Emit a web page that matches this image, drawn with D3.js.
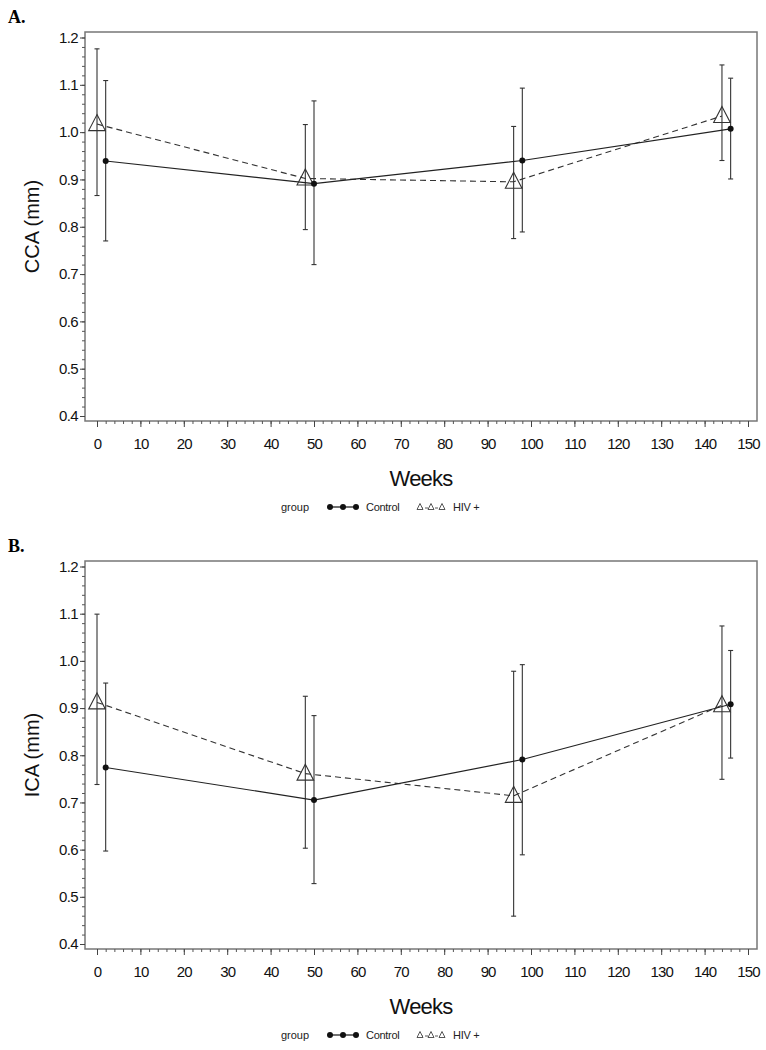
<!DOCTYPE html>
<html><head><meta charset="utf-8">
<script src="https://cdn.jsdelivr.net/npm/d3@7/dist/d3.min.js"></script>
<style>body{margin:0;background:#fff}svg{display:block}</style>
</head><body>
<svg id="c" width="766" height="1050"></svg>
<script>
// ---- data ----
const weeksHIV = [0, 48, 96, 144];
const weeksControl = [2, 50, 98, 146];
const xTicks = [0,10,20,30,40,50,60,70,80,90,100,110,120,130,140,150];
const yTicks = [0.4,0.5,0.6,0.7,0.8,0.9,1.0,1.1,1.2];

const ccaControl   = [0.939, 0.891, 0.940, 1.007];
const ccaControlLo = [0.770, 0.720, 0.789, 0.901];
const ccaControlHi = [1.109, 1.066, 1.093, 1.114];
const ccaHIV       = [1.017, 0.902, 0.895, 1.034];
const ccaHIVLo     = [0.866, 0.794, 0.775, 0.940];
const ccaHIVHi     = [1.176, 1.016, 1.012, 1.142];

const icaControl   = [0.774, 0.705, 0.791, 0.908];
const icaControlLo = [0.597, 0.528, 0.589, 0.794];
const icaControlHi = [0.953, 0.884, 0.992, 1.022];
const icaHIV       = [0.912, 0.761, 0.714, 0.906];
const icaHIVLo     = [0.738, 0.603, 0.459, 0.749];
const icaHIVHi     = [1.099, 0.925, 0.978, 1.074];

const panels = [
  {label:"A.", ylab:"CCA (mm)", top:32, bottom:421,
   ctrl:ccaControl, ctrlLo:ccaControlLo, ctrlHi:ccaControlHi,
   hiv:ccaHIV, hivLo:ccaHIVLo, hivHi:ccaHIVHi},
  {label:"B.", ylab:"ICA (mm)", top:561, bottom:949,
   ctrl:icaControl, ctrlLo:icaControlLo, ctrlHi:icaControlHi,
   hiv:icaHIV, hivLo:icaHIVLo, hivHi:icaHIVHi}
];

const svg = d3.select("#c");
const left = 85, right = 757;
const x = d3.scaleLinear().domain([0,150]).range([97, 748]);
const font = "'Liberation Sans', Arial, sans-serif";
const ink = "#222", frameC = "#777";

panels.forEach(p => {
  const y = d3.scaleLinear().domain([0.4,1.2]).range([p.bottom-5, p.top+5.5]);
  const g = svg.append("g");

  // panel letter
  svg.append("text").attr("x",8).attr("y",p.top-9)
    .attr("font-family","'Liberation Serif','Times New Roman',serif")
    .attr("font-weight","bold").attr("font-size",18).attr("fill","#000").text(p.label);

  // frame
  g.append("rect").attr("x",left).attr("y",p.top).attr("width",right-left).attr("height",p.bottom-p.top)
    .attr("fill","none").attr("stroke",frameC).attr("stroke-width",1.5);

  // y axis minor
  const yMinor = d3.range(0.4, 1.2001, 0.02).map(v=>+v.toFixed(2));
  const yMinAx = g.append("g").attr("transform",`translate(${left},0)`)
    .call(d3.axisLeft(y).tickValues(yMinor).tickSize(3).tickFormat(""));
  yMinAx.select(".domain").remove();
  yMinAx.selectAll("line").attr("stroke","#555");
  const yAx = g.append("g").attr("transform",`translate(${left},0)`)
    .call(d3.axisLeft(y).tickValues(yTicks).tickSize(5).tickPadding(2).tickFormat(d3.format(".1f")));
  yAx.select(".domain").remove();
  yAx.selectAll("line").attr("stroke","#444");
  yAx.selectAll("text").attr("font-family",font).attr("font-size",15).attr("fill","#111")
    .attr("letter-spacing","-0.6px");

  // x axis
  const xMinor = d3.range(0,151,2);
  const xMinAx = g.append("g").attr("transform",`translate(0,${p.bottom})`)
    .call(d3.axisBottom(x).tickValues(xMinor).tickSize(3).tickFormat(""));
  xMinAx.select(".domain").remove();
  xMinAx.selectAll("line").attr("stroke","#555");
  const xAx = g.append("g").attr("transform",`translate(0,${p.bottom})`)
    .call(d3.axisBottom(x).tickValues(xTicks).tickSize(6).tickPadding(11).tickFormat(d3.format("d")));
  xAx.select(".domain").remove();
  xAx.selectAll("line").attr("stroke","#444");
  xAx.selectAll("text").attr("font-family",font).attr("font-size",15).attr("fill","#111")
    .attr("letter-spacing","-0.9px");

  // axis titles
  g.append("text").attr("x",(left+right)/2).attr("y",p.bottom+65).attr("text-anchor","middle")
    .attr("font-family",font).attr("font-size",22).attr("letter-spacing","-0.8px").attr("fill","#111").text("Weeks");
  g.append("text").attr("transform",`translate(39,${(p.top+p.bottom)/2}) rotate(-90)`)
    .attr("text-anchor","middle").attr("font-family",font).attr("font-size",20).attr("fill","#111").text(p.ylab);

  const hivPts = weeksHIV.map((w,i)=>({w, v:p.hiv[i], lo:p.hivLo[i], hi:p.hivHi[i]}));
  const ctrlPts = weeksControl.map((w,i)=>({w, v:p.ctrl[i], lo:p.ctrlLo[i], hi:p.ctrlHi[i]}));
  const line = d3.line().x(d=>x(d.w)).y(d=>y(d.v));

  [hivPts, ctrlPts].forEach(pts => {
    pts.forEach(d => {
      g.append("line").attr("x1",x(d.w)).attr("x2",x(d.w)).attr("y1",y(d.lo)).attr("y2",y(d.hi))
        .attr("stroke","#333").attr("stroke-width",1.1);
      [d.lo,d.hi].forEach(v => g.append("line").attr("x1",x(d.w)-2.5).attr("x2",x(d.w)+2.5)
        .attr("y1",y(v)).attr("y2",y(v)).attr("stroke","#333").attr("stroke-width",1.1));
    });
  });

  g.append("path").datum(hivPts).attr("d",line).attr("fill","none").attr("stroke","#333")
    .attr("stroke-width",1.1).attr("stroke-dasharray","6,4");
  g.append("path").datum(ctrlPts).attr("d",line).attr("fill","none").attr("stroke",ink)
    .attr("stroke-width",1.2);

  hivPts.forEach(d => {
    const cx = x(d.w), cy = y(d.v);
    g.append("path").attr("d",`M${cx},${cy-9.5}L${cx+8.3},${cy+6.5}L${cx-8.3},${cy+6.5}Z`)
      .attr("fill","none").attr("stroke","#333").attr("stroke-width",1.1);
  });
  ctrlPts.forEach(d => {
    g.append("circle").attr("cx",x(d.w)).attr("cy",y(d.v)).attr("r",3).attr("fill","#111");
  });

  // legend
  const ly = p.bottom + 86;
  const lg = svg.append("g");
  lg.append("text").attr("x",295).attr("y",ly+4).attr("text-anchor","middle")
    .attr("font-family",font).attr("font-size",11).attr("fill","#222").text("group");
  lg.append("line").attr("x1",330).attr("x2",356).attr("y1",ly).attr("y2",ly).attr("stroke","#111").attr("stroke-width",1.2);
  [330,343,356].forEach(cx => lg.append("circle").attr("cx",cx).attr("cy",ly).attr("r",3).attr("fill","#111"));
  lg.append("text").attr("x",366).attr("y",ly+4).attr("font-family",font).attr("font-size",11)
    .attr("letter-spacing","-0.3px").attr("fill","#222").text("Control");
  lg.append("line").attr("x1",420).attr("x2",442).attr("y1",ly+1).attr("y2",ly+1).attr("stroke","#444")
    .attr("stroke-width",0.9).attr("stroke-dasharray","3,2");
  [420,431,442].forEach(cx => lg.append("path").attr("d",`M${cx},${ly-3.5}L${cx+3},${ly+2.5}L${cx-3},${ly+2.5}Z`)
    .attr("fill","#fff").attr("stroke","#444").attr("stroke-width",0.9));
  lg.append("text").attr("x",453).attr("y",ly+4).attr("font-family",font).attr("font-size",11)
    .attr("letter-spacing","-0.3px").attr("fill","#222").text("HIV +");
});
</script>
</body></html>
